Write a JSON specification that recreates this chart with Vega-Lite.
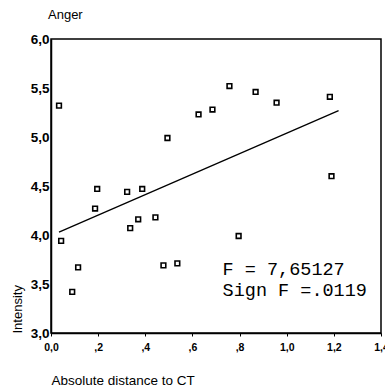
{
  "$schema": "https://vega.github.io/schema/vega-lite/v6.json",
  "width": 330,
  "height": 294,
  "autosize": {"type": "none"},
  "padding": {"left": 51, "top": 39, "right": 4, "bottom": 59},
  "background": "white",
  "title": {"text": "Anger", "anchor": "start", "frame": "group", "dx": -3, "offset": 0, "baseline": "alphabetic", "font": "Liberation Sans", "fontSize": 13, "fontWeight": "normal", "color": "black"},
  "config": {
    "view": {"stroke": "black", "strokeWidth": 1.5},
    "axis": {"grid": false, "domainColor": "black", "domainWidth": 1.5, "tickColor": "black", "labelColor": "black", "titleColor": "black", "labelFont": "Liberation Sans", "titleFont": "Liberation Sans", "labelFontWeight": "bold", "titleFontWeight": "normal", "titleFontSize": 13}
  },
  "datasets": {
    "pts": [
      {"dist": 0.034, "intensity": 5.32},
      {"dist": 0.043, "intensity": 3.94},
      {"dist": 0.115, "intensity": 3.67},
      {"dist": 0.09, "intensity": 3.42},
      {"dist": 0.187, "intensity": 4.27},
      {"dist": 0.196, "intensity": 4.47},
      {"dist": 0.323, "intensity": 4.44},
      {"dist": 0.336, "intensity": 4.07},
      {"dist": 0.37, "intensity": 4.16},
      {"dist": 0.387, "intensity": 4.47},
      {"dist": 0.443, "intensity": 4.18},
      {"dist": 0.477, "intensity": 3.69},
      {"dist": 0.494, "intensity": 4.99},
      {"dist": 0.536, "intensity": 3.71},
      {"dist": 0.626, "intensity": 5.23},
      {"dist": 0.685, "intensity": 5.28},
      {"dist": 0.757, "intensity": 5.52},
      {"dist": 0.796, "intensity": 3.99},
      {"dist": 0.868, "intensity": 5.46},
      {"dist": 0.957, "intensity": 5.35},
      {"dist": 1.183, "intensity": 5.41},
      {"dist": 1.19, "intensity": 4.6}
    ],
    "fit": [
      {"dist": 0.034, "intensity": 4.03},
      {"dist": 1.22, "intensity": 5.27}
    ],
    "notes": [
      {"dist": 0.728, "intensity": 3.59, "label": "F = 7,65127"},
      {"dist": 0.728, "intensity": 3.375, "label": "Sign F =.0119"}
    ]
  },
  "encoding": {
    "x": {"field": "dist", "type": "quantitative",
      "scale": {"domain": [0, 1.4], "nice": false, "zero": false},
      "axis": {"title": "Absolute distance to CT", "values": [0, 0.2, 0.4, 0.6, 0.8, 1.0, 1.2, 1.4],
        "labelExpr": "datum.value == 0 ? '0,0' : (datum.value < 0.99 ? ',' + format(datum.value * 10, 'd') : replace(format(datum.value, '.1f'), '.', ','))",
        "labelFontSize": 10.5, "tickSize": 3, "labelPadding": 6, "labelFlush": false, "labelOverlap": false,
        "titleX": 0, "titleY": 51, "titleAlign": "left", "titleBaseline": "alphabetic", "titleFontSize": 13.5}},
    "y": {"field": "intensity", "type": "quantitative",
      "scale": {"domain": [3, 6], "nice": false, "zero": false},
      "axis": {"title": "Intensity", "values": [3, 3.5, 4, 4.5, 5, 5.5, 6],
        "labelExpr": "replace(format(datum.value, '.1f'), '.', ',')",
        "labelFontSize": 13.5, "ticks": false, "labelPadding": 2, "labelFlush": false, "labelOverlap": false,
        "titleAngle": -90, "titleX": -34, "titleY": 294, "titleAlign": "left", "titleBaseline": "middle", "titleFontSize": 13}}
  },
  "layer": [
    {"data": {"name": "fit"}, "mark": {"type": "line", "color": "black", "strokeWidth": 1.3}},
    {"data": {"name": "pts"}, "mark": {"type": "point", "shape": "square", "filled": false, "color": "black", "size": 22, "strokeWidth": 1.6, "opacity": 1}},
    {"data": {"name": "notes"}, "mark": {"type": "text", "align": "left", "baseline": "alphabetic", "font": "Liberation Mono", "fontSize": 18.5, "color": "black"},
      "encoding": {"text": {"field": "label", "type": "nominal"}}}
  ]
}
